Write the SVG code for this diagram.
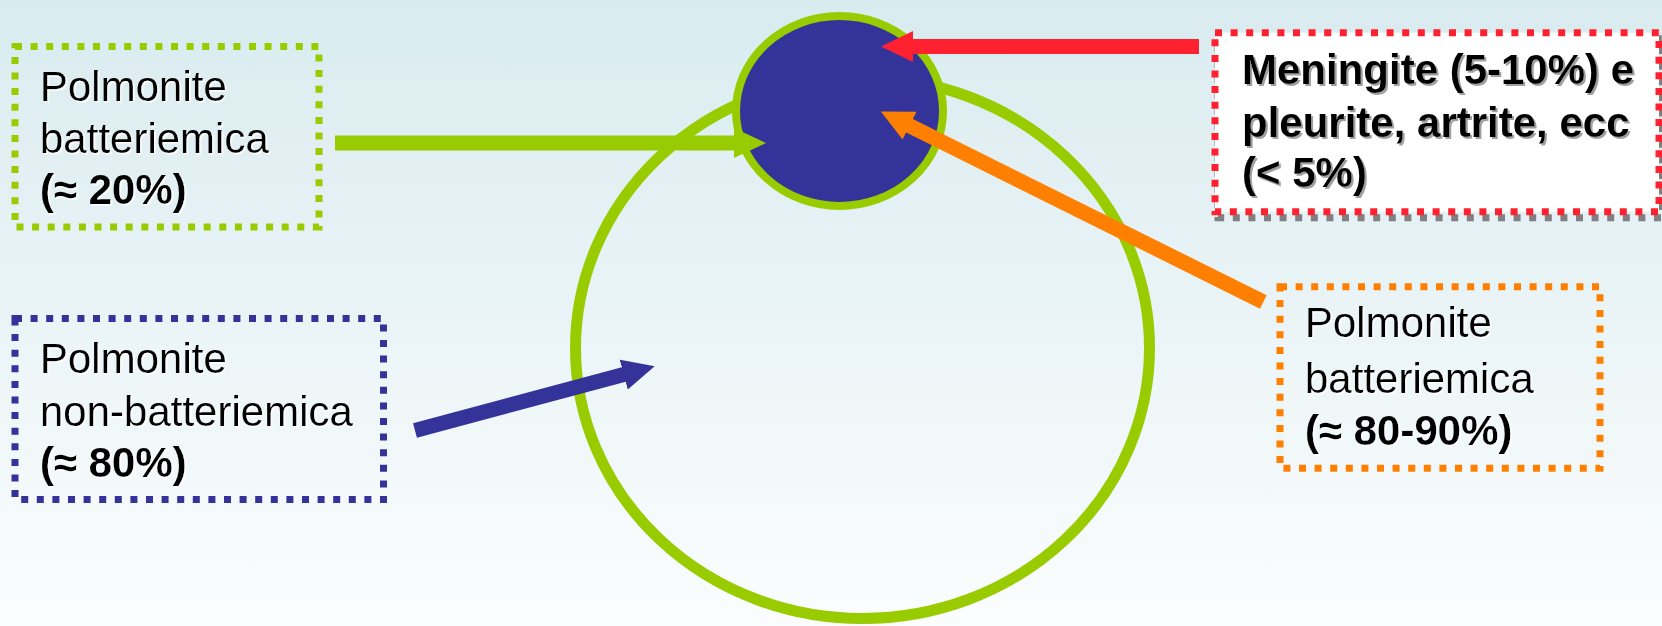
<svg xmlns="http://www.w3.org/2000/svg" width="1662" height="626" viewBox="0 0 1662 626">
<defs>
<linearGradient id="bg" x1="0" y1="0" x2="0" y2="1">
<stop offset="0" stop-color="#D9EBEF"/>
<stop offset="1" stop-color="#FBFDFE"/>
</linearGradient>
<marker id="hRed" markerUnits="userSpaceOnUse" markerWidth="32" markerHeight="31" viewBox="0 0 32 31" refX="1" refY="15.5" orient="auto"><path d="M0,0 L32,15.5 L0,31 z" fill="#FF2030"/></marker>
<marker id="hGreen" markerUnits="userSpaceOnUse" markerWidth="32" markerHeight="30" viewBox="0 0 32 30" refX="1" refY="15" orient="auto"><path d="M0,0 L32,15 L0,30 z" fill="#99CC00"/></marker>
<marker id="hOrange" markerUnits="userSpaceOnUse" markerWidth="32" markerHeight="31" viewBox="0 0 32 31" refX="1" refY="15.5" orient="auto"><path d="M0,0 L32,15.5 L0,31 z" fill="#FF8000"/></marker>
<marker id="hBlue" markerUnits="userSpaceOnUse" markerWidth="32" markerHeight="31" viewBox="0 0 32 31" refX="1" refY="15.5" orient="auto"><path d="M0,0 L32,15.5 L0,31 z" fill="#333399"/></marker>
<filter id="wsh" x="-5%" y="-5%" width="110%" height="120%"><feDropShadow dx="1.5" dy="1.5" stdDeviation="0" flood-color="#FFFFFF" flood-opacity="1"/></filter>
<filter id="gsh" x="-5%" y="-5%" width="110%" height="120%"><feDropShadow dx="2" dy="2" stdDeviation="0.3" flood-color="#A0A0A0" flood-opacity="1"/></filter>
</defs>
<style>
.box{fill:none;stroke-width:7;stroke-dasharray:7 8.6}
.t{font-family:"Liberation Sans",Arial,sans-serif;font-size:42px;fill:#000}
.b{font-weight:bold}
.conn{fill:none;stroke-width:15;stroke-linecap:butt}
</style>
<rect x="0" y="0" width="1662" height="626" fill="url(#bg)"/>

<g id="outer-circle">
<ellipse cx="862.5" cy="348" rx="287" ry="270.5" fill="none" stroke="#99CC00" stroke-width="11"/>
</g>
<g id="inner-circle">
<ellipse cx="839.5" cy="111" rx="103.5" ry="95" fill="#333399" stroke="#99CC00" stroke-width="8"/>
</g>

<g id="box-green">
<rect class="box" x="15" y="46.5" width="304" height="180.5" stroke="#99CC00"/>
<g class="t" filter="url(#wsh)">
<text x="40" y="101">Polmonite</text>
<text x="40" y="153">batteriemica</text>
<text x="40" y="204" class="b">(≈ 20%)</text>
</g>
</g>

<g id="box-blue">
<rect class="box" x="15" y="318.5" width="368.5" height="181" stroke="#333399"/>
<g class="t" filter="url(#wsh)">
<text x="40" y="373">Polmonite</text>
<text x="40" y="426">non-batteriemica</text>
<text x="40" y="477" class="b">(≈ 80%)</text>
</g>
</g>

<g id="box-red">
<rect class="box" x="1218" y="38.7" width="444" height="179" stroke="#808080"/>
<rect x="1215" y="32.7" width="444" height="179" fill="#FFFFFF"/>
<rect class="box" x="1215" y="32.7" width="444" height="179" stroke="#FF2030"/>
<g class="t b" filter="url(#gsh)">
<text x="1242" y="83.5">Meningite (5-10%) e</text>
<text x="1242" y="136.5">pleurite, artrite, ecc</text>
<text x="1242" y="187">(&lt; 5%)</text>
</g>
</g>

<g id="box-orange">
<rect class="box" x="1280" y="286.7" width="320" height="181.6" stroke="#FF8000"/>
<g class="t" filter="url(#wsh)">
<text x="1305" y="337">Polmonite</text>
<text x="1305" y="392.5">batteriemica</text>
<text x="1305" y="445" class="b">(≈ 80-90%)</text>
</g>
</g>

<g id="connectors">
<line class="conn" x1="1199" y1="46.5" x2="912" y2="46.5" stroke="#FF2030" marker-end="url(#hRed)"/>
<line class="conn" x1="335" y1="143" x2="735" y2="143" stroke="#99CC00" marker-end="url(#hGreen)"/>
<line class="conn" x1="1263.3" y1="302" x2="908.6" y2="125.3" stroke="#FF8000" marker-end="url(#hOrange)"/>
<line class="conn" x1="415" y1="430.5" x2="624.7" y2="374.3" stroke="#333399" marker-end="url(#hBlue)"/>
</g>
</svg>
